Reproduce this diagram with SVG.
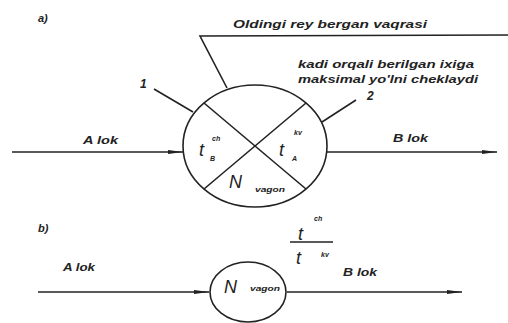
<svg xmlns="http://www.w3.org/2000/svg" width="508" height="323" viewBox="0 0 508 323">
<style>
.ln{stroke:#222;stroke-width:1.6;fill:none}
.t{font-family:"Liberation Sans",Arial,sans-serif;font-weight:bold;font-style:italic;fill:#222}
.s{font-size:10px}
.m{font-size:18px;font-weight:normal}
.sub{font-size:7px}
</style>
<defs>
<marker id="ah" markerWidth="16" markerHeight="6" refX="15" refY="3" orient="auto" markerUnits="userSpaceOnUse">
<path d="M0,1 L15,3 L0,5 Z" fill="#222"/>
</marker>
</defs>
<rect width="508" height="323" fill="#fff"/>
<text class="t" x="38" y="22" font-size="11">a)</text>
<text class="t" x="38" y="232" font-size="11">b)</text>
<g id="connectors">
<line class="ln" x1="12" y1="152" x2="183" y2="152" marker-end="url(#ah)"/>
<line class="ln" x1="327" y1="152" x2="497" y2="152" marker-end="url(#ah)"/>
<line class="ln" x1="38" y1="292" x2="209" y2="292" marker-end="url(#ah)"/>
<line class="ln" x1="287" y1="292" x2="462" y2="292" marker-end="url(#ah)"/>
<polyline class="ln" points="508,35 200,36 227,88"/>
<line class="ln" x1="154" y1="89" x2="193" y2="112"/>
<line class="ln" x1="322" y1="122" x2="356" y2="100"/>
</g>
<g id="labels">
<text class="t s" x="233" y="28" textLength="194" lengthAdjust="spacingAndGlyphs">Oldingi rey bergan vaqrasi</text>
<text class="t s" x="298" y="68" textLength="176" lengthAdjust="spacingAndGlyphs">kadi orqali berilgan ixiga</text>
<text class="t s" x="298" y="83" textLength="180" lengthAdjust="spacingAndGlyphs">maksimal yo'lni cheklaydi</text>
<text class="t" x="140" y="88" font-size="12">1</text>
<text class="t" x="367" y="100" font-size="12">2</text>
<text class="t s" x="83" y="144" textLength="35" lengthAdjust="spacingAndGlyphs">A lok</text>
<text class="t s" x="393" y="142" textLength="35" lengthAdjust="spacingAndGlyphs">B lok</text>
<text class="t s" x="63" y="271" textLength="32" lengthAdjust="spacingAndGlyphs">A lok</text>
<text class="t s" x="343" y="276" textLength="34" lengthAdjust="spacingAndGlyphs">B lok</text>
</g>
<g id="node-a">
<ellipse class="ln" cx="255" cy="146" rx="72" ry="61"/>
<line class="ln" x1="204" y1="103" x2="306" y2="189"/>
<line class="ln" x1="306" y1="103" x2="204" y2="189"/>
<text class="t m" x="199" y="156">t</text>
<text class="t sub" x="212" y="141">ch</text>
<text class="t sub" x="210" y="161">B</text>
<text class="t m" x="279" y="156">t</text>
<text class="t sub" x="294" y="135">kv</text>
<text class="t sub" x="292" y="161">A</text>
<text class="t m" x="229" y="188">N</text>
<text class="t sub" x="255" y="192" font-size="8" textLength="30" lengthAdjust="spacingAndGlyphs">vagon</text>
</g>
<g id="node-b">
<ellipse class="ln" cx="248" cy="292" rx="38" ry="30"/>
<text class="t m" x="224" y="293">N</text>
<text class="t sub" x="250" y="291" font-size="8" textLength="30" lengthAdjust="spacingAndGlyphs">vagon</text>
</g>
<g id="fraction">
<text class="t m" x="298" y="240">t</text>
<text class="t sub" x="314" y="221">ch</text>
<line class="ln" x1="290" y1="242" x2="333" y2="242" stroke-width="1.2"/>
<text class="t m" x="296" y="264">t</text>
<text class="t sub" x="321" y="257">kv</text>
</g>
</svg>
